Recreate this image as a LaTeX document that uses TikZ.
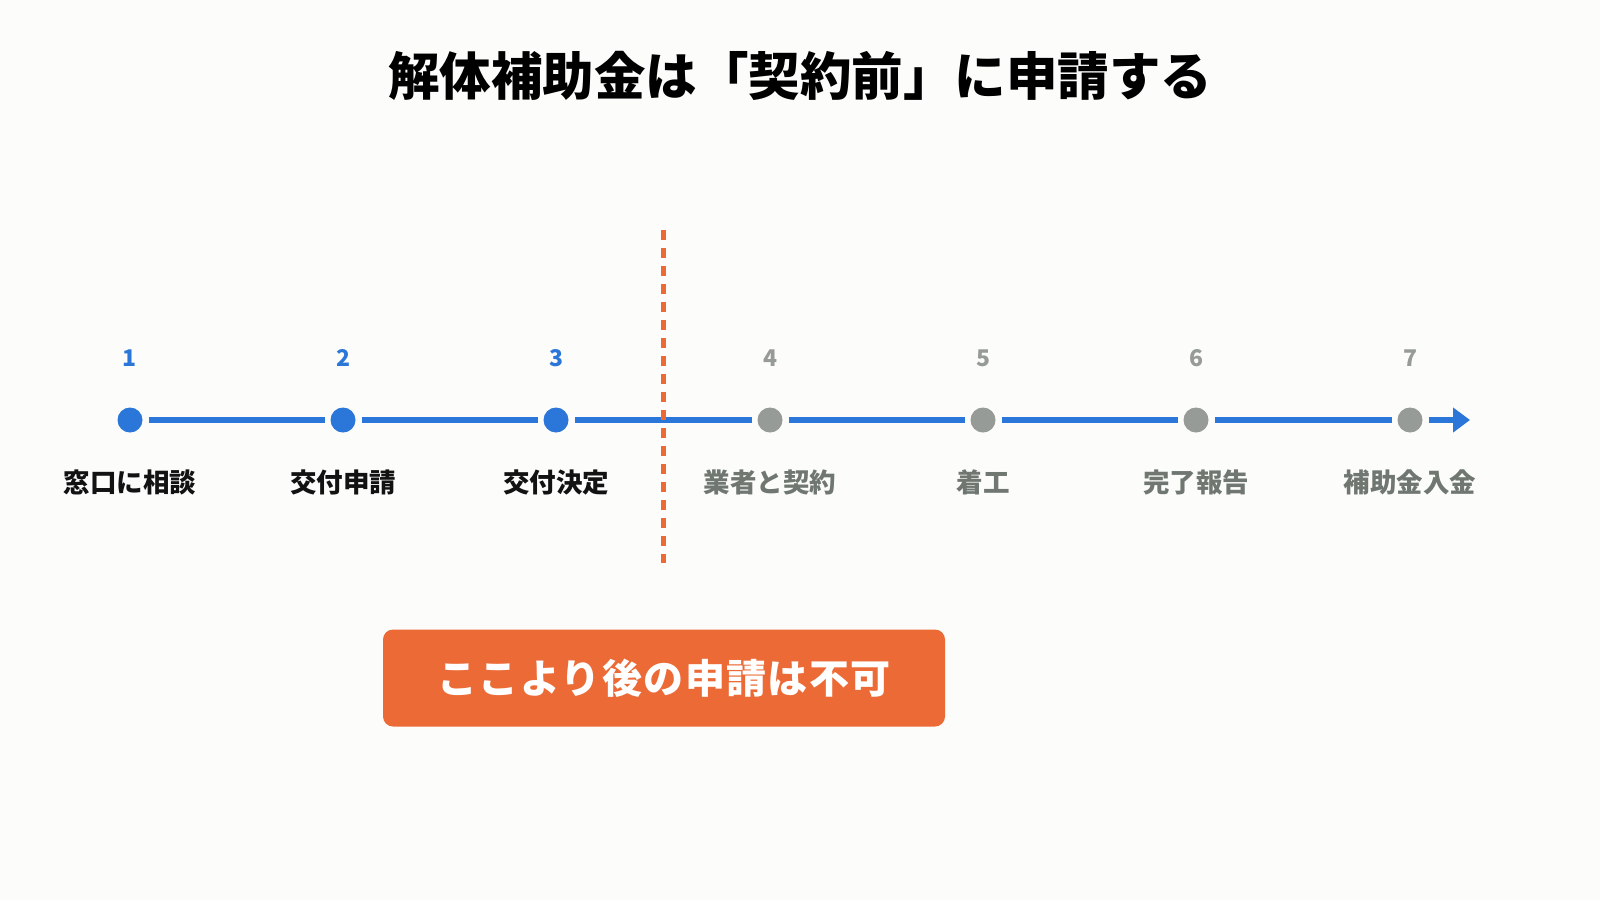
\documentclass[tikz,border=0pt]{standalone}
\usepackage{fontspec}
\setmainfont{Noto Sans CJK JP}
\newfontfamily\notefont{Noto Sans CJK JP}[LetterSpace=3.5]
\usetikzlibrary{arrows.meta}

\definecolor{bgpaper}{HTML}{FCFCFA}
\definecolor{stepblue}{HTML}{2B77D9}
\definecolor{stepgray}{HTML}{979B97}
\definecolor{labelgray}{HTML}{6F7770}
\definecolor{cutorange}{HTML}{EC6A36}

\tikzset{
  dot/.style={circle, minimum size=25pt, inner sep=0pt, outer sep=6pt},
  done/.style={dot, fill=stepblue},
  todo/.style={dot, fill=stepgray},
  num/.style={font=\fontsize{23}{26}\selectfont\bfseries},
  lbl/.style={font=\fontsize{26.5}{30}\selectfont\bfseries},
  track/.style={stepblue, line width=6pt}
}

\begin{document}
\begin{tikzpicture}[x=1pt, y=-1pt]
    \useasboundingbox[fill=bgpaper] (0,0) rectangle (1600,900);

    \node[font=\fontsize{51.5}{60}\selectfont\bfseries, text=black] (title) at (800,76) {解体補助金は「契約前」に申請する};

    % steps
    \node[done] (d1) at (130,420) {};
    \node[done] (d2) at (343,420) {};
    \node[done] (d3) at (556,420) {};
    \node[todo] (d4) at (770,420) {};
    \node[todo] (d5) at (983,420) {};
    \node[todo] (d6) at (1196,420) {};
    \node[todo] (d7) at (1410,420) {};
    \coordinate (tip) at (1470,420);

    \node[num, text=stepblue] (n1) at (130,358) {1};
    \node[num, text=stepblue] (n2) at (343,358) {2};
    \node[num, text=stepblue] (n3) at (556,358) {3};
    \node[num, text=stepgray] (n4) at (770,358) {4};
    \node[num, text=stepgray] (n5) at (983,358) {5};
    \node[num, text=stepgray] (n6) at (1196,358) {6};
    \node[num, text=stepgray] (n7) at (1410,358) {7};

    \node[lbl, text=black!93] (l1) at (130,482) {窓口に相談};
    \node[lbl, text=black!93] (l2) at (343,482) {交付申請};
    \node[lbl, text=black!93] (l3) at (556,482) {交付決定};
    \node[lbl, text=labelgray] (l4) at (770,482) {業者と契約};
    \node[lbl, text=labelgray] (l5) at (983,482) {着工};
    \node[lbl, text=labelgray] (l6) at (1196,482) {完了報告};
    \node[lbl, text=labelgray] (l7) at (1410,482) {補助金入金};

    \draw[track] (d1) -- (d2) (d2) -- (d3) (d3) -- (d4)
                 (d4) -- (d5) (d5) -- (d6) (d6) -- (d7);
    \draw[track, -{Triangle[length=17pt, width=24pt]}] (d7) -- (tip);

    % cut-off line
    \coordinate (cuttop) at (663,230);
    \coordinate (cutbot) at (663,563);
    \draw[cutorange, line width=5pt, dash pattern=on 10pt off 8pt] (cuttop) -- (cutbot);

    \node[fill=cutorange, rounded corners=10pt, minimum width=562pt, minimum height=97pt,
          text=white, font=\notefont\fontsize{40}{46}\selectfont\bfseries] (note) at (664,678) {ここより後の申請は不可};
\end{tikzpicture}
\end{document}
